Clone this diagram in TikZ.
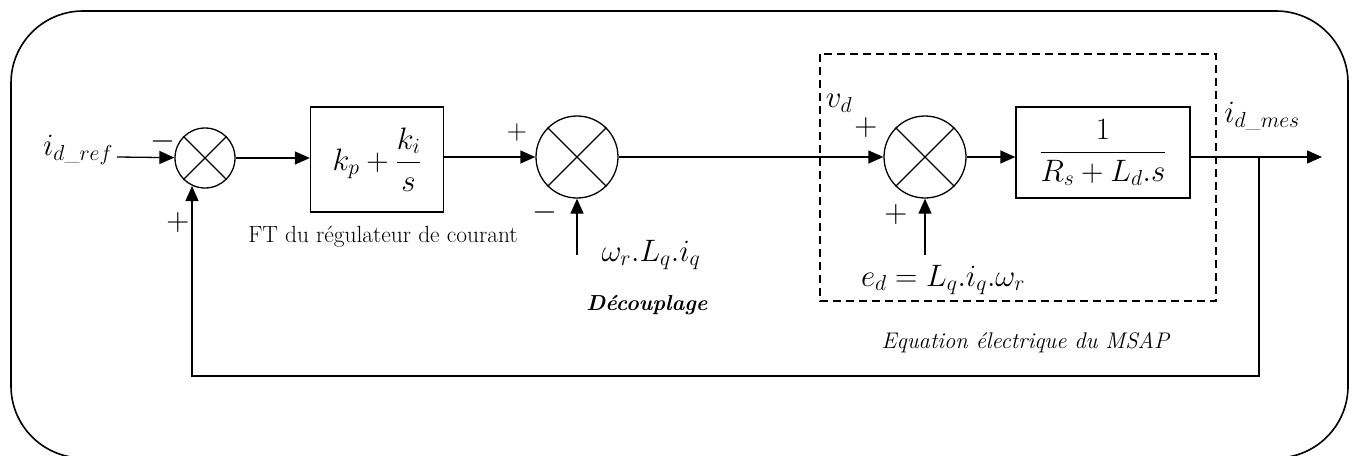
\documentclass[tikz,border=0pt]{standalone}
\usepackage{fix-cm}
\usepackage{amsmath}
\usepackage{fontspec}
\usetikzlibrary{arrows.meta}
\begin{document}
\begin{tikzpicture}[x=1pt,y=-1pt,
  line width=1.3pt,
  txt/.style={font=\fontsize{23.4}{27}\selectfont, inner sep=0pt},
  mth/.style={font=\fontsize{31}{35}\selectfont, inner sep=0pt},
  sgn/.style={font=\fontsize{32}{34}\selectfont, inner sep=0pt},
  sumnode/.style={circle, draw, inner sep=0pt, minimum size=#1},
  blk/.style={draw, inner sep=0pt},
  arr/.style={-{Triangle[length=15pt,width=13pt]}}]
\useasboundingbox (0,0) rectangle (1356,455);
% outer frame
\draw[line width=1.6pt, rounded corners=72pt] (11,11) rectangle (1348,458);
% dashed box
\draw[dash pattern=on 8pt off 5pt] (820,54) rectangle (1216,301);

% blocks
\node[sumnode=60pt] (sum1) at (205,158) {};
\node[blk, minimum width=133pt, minimum height=105pt, mth] (box1) at (377,159.5) {$k_p+\dfrac{k_i}{s}$};
\node[sumnode=82pt] (sum2) at (577,157) {};
\node[sumnode=82pt] (sum3) at (925,157) {};
\node[blk, minimum width=174pt, minimum height=91pt, mth] (box2) at (1103,152.5) {$\dfrac{1}{R_s+L_d.s}$};
\foreach \s in {sum1,sum2,sum3}
  \draw (\s.north west) -- (\s.south east) (\s.north east) -- (\s.south west);

% labels
\node[mth] (lref) at (78,150) {$i_{d\_ref}$};
\node[sgn] (m1) at (163,141) {$-$};
\node[sgn] (p1) at (178,222) {$+$};
\node[txt] (ft) at (383,237) {FT du régulateur de courant};
\node[sgn, font=\fontsize{28}{30}\selectfont] (p2) at (517,132) {$+$};
\node[sgn] (m2) at (545,212) {$-$};
\node[mth] (wl) at (651,255) {$\omega_r.L_q.i_q$};
\node[txt, font=\fontsize{21.7}{25}\selectfont] (dec) at (647,305) {\textbf{\textit{Découplage}}};
\node[mth] (vd) at (839,103) {$v_d$};
\node[sgn] (p3) at (866,127) {$+$};
\node[sgn] (p4) at (896,214) {$+$};
\node[mth] (ed) at (943,280) {$e_d=L_q.i_q.\omega_r$};
\node[txt, font=\fontsize{22.6}{26}\selectfont] (eq) at (1026,343) {\textit{Equation électrique du MSAP}};
\node[mth] (lmes) at (1262,116) {$i_{d\_mes}$};

% coordinates
\coordinate (in) at (117,157);
\coordinate (wb) at (577,255);
\coordinate (eb) at (925,255);
\coordinate (fb) at (1259,157);
\coordinate (out) at (1322,157);
\coordinate (fbb) at (1259,376);
\coordinate (fbc) at (192,376);
\coordinate (fbt) at (192,186);

% connectors
\draw[arr] (in) -- (sum1);
\draw[arr] (sum1) -- (sum1 -| box1.west);
\draw[arr] (box1.east |- sum2) -- (sum2);
\draw[arr] (sum2) -- (sum3);
\draw[arr] (sum3) -- (sum3 -| box2.west);
\draw[arr] (box2.east |- out) -- (out);
\draw[arr] (wb) -- (sum2);
\draw[arr] (eb) -- (sum3);
\draw[arr] (fb) -- (fbb) -- (fbc) -- (fbt);
\end{tikzpicture}
\end{document}
